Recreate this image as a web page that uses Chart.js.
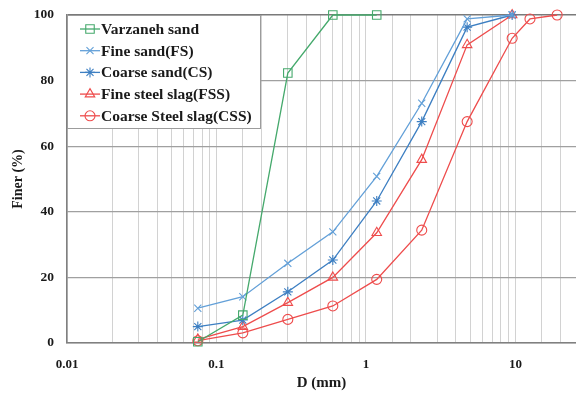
<!DOCTYPE html>
<html>
<head>
<meta charset="utf-8">
<script src="https://cdn.jsdelivr.net/npm/chart.js@4/dist/chart.umd.min.js"></script>
<style>
  body { margin: 0; background: #fff; }
  #wrap { width: 576px; height: 395px; position: relative; }
</style>
</head>
<body>
<div id="wrap"><canvas id="grafico"></canvas></div>
<script>
// tamices (mm) y porcentaje que pasa
const sieveSizes = [0.075, 0.15, 0.3, 0.6, 1.18, 2.36, 4.75, 9.5, 12.5, 19]
const varzanehSand = [0.4, 8.5, 82.3, 100, 100]
const fineSand = [10.6, 14.1, 24.3, 33.9, 50.8, 73.1, 98.8, 100]
const coarseSand = [5.0, 7.0, 15.6, 25.3, 43.3, 67.5, 96.3, 100]
const fineSlag = [1.1, 5.0, 12.3, 20.0, 33.6, 55.9, 90.9, 100]
const coarseSlag = [0.7, 3.1, 7.2, 11.3, 19.4, 34.4, 67.5, 92.9, 98.8, 100]

const seriesNames = ['Varzaneh sand', 'Fine sand(FS)', 'Coarse sand(CS)', 'Fine steel slag(FSS)', 'Coarse Steel slag(CSS)']
const xTickLabels = [0.01, 0.1, 1, 10]
const yTickValues = [0, 20, 40, 60, 80, 100]

const fuente = 'Liberation Serif, Times New Roman, serif'

function puntos(valores) {
  return valores.map((v, i) => ({x: sieveSizes[i], y: v}))
}

function serie(label, valores, color, estilo, radio) {
  return {
    label: label,
    data: puntos(valores),
    borderColor: color,
    backgroundColor: 'rgba(255,255,255,0)',
    pointBorderColor: color,
    pointBackgroundColor: 'rgba(255,255,255,0)',
    pointStyle: estilo,
    pointRadius: radio,
    pointBorderWidth: 1.1,
    borderWidth: 1.3,
    tension: 0,
    clip: false
  }
}

// leyenda dibujada dentro del area del grafico, con fondo blanco
const leyendaCaja = {
  id: 'leyendaCaja',
  afterDatasetsDraw(chart) {
    const ctx = chart.ctx
    const area = chart.chartArea
    const x0 = area.left, y0 = area.top
    ctx.save()
    ctx.fillStyle = '#fff'
    ctx.fillRect(x0, y0, 193, 113)
    ctx.strokeStyle = '#9c9c9c'
    ctx.lineWidth = 1
    ctx.strokeRect(x0 + 0.5, y0 + 0.5, 193, 113)
    ctx.font = 'bold 15.5px ' + fuente
    ctx.textBaseline = 'middle'
    chart.data.datasets.forEach((ds, i) => {
      const y = y0 + 14 + i * 21.7
      ctx.strokeStyle = ds.borderColor
      ctx.lineWidth = 1.3
      ctx.beginPath()
      ctx.moveTo(x0 + 13, y)
      ctx.lineTo(x0 + 33, y)
      ctx.stroke()
      ctx.fillStyle = 'rgba(255,255,255,0)'
      ctx.lineWidth = 1.1
      Chart.helpers.drawPoint(ctx, {pointStyle: ds.pointStyle, radius: ds.pointRadius, borderWidth: 1.1, rotation: 0}, x0 + 23, y)
      ctx.fillStyle = '#1a1a1a'
      ctx.fillText(ds.label, x0 + 34, y + 1)
    })
    ctx.restore()
  }
}

const canvas = document.getElementById('grafico')
const grafico = new Chart(canvas, {
  type: 'line',
  data: {
    datasets: [
      serie(seriesNames[0], varzanehSand, '#45a96c', 'rect', 6),
      serie(seriesNames[1], fineSand, '#63a0d8', 'crossRot', 5),
      serie(seriesNames[2], coarseSand, '#3d7fc2', 'star', 5),
      serie(seriesNames[3], fineSlag, '#ee4c4c', 'triangle', 5.5),
      serie(seriesNames[4], coarseSlag, '#ee4c4c', 'circle', 5)
    ]
  },
  options: {
    responsive: true,
    maintainAspectRatio: false,
    animation: false,
    layout: {autoPadding: false, padding: {top: 15, right: 0, bottom: 0, left: 0}},
    plugins: {
      legend: {display: false},
      tooltip: {enabled: false}
    },
    scales: {
      x: {
        type: 'logarithmic',
        min: 0.01,
        max: 25.4,
        afterFit: (scale) => {
          scale.height = 52
          scale.paddingLeft = 0
          scale.paddingRight = 0
        },
        border: {color: '#808080', width: 1.5},
        grid: {
          drawTicks: false,
          color: (c) => (c.tick && c.tick.value > 20.5) ? 'rgba(0,0,0,0)' : '#d2d2d2',
          lineWidth: 1
        },
        ticks: {
          autoSkip: false,
          maxRotation: 0,
          padding: 14,
          color: '#1a1a1a',
          font: {family: fuente, size: 13, weight: 'bold'},
          callback: (v) => xTickLabels.includes(Number(v.toPrecision(3))) ? String(Number(v.toPrecision(3))) : ''
        },
        title: {
          display: true,
          text: 'D (mm)',
          color: '#1a1a1a',
          font: {family: fuente, size: 15, weight: 'bold'},
          padding: {top: 0, bottom: 3}
        }
      },
      y: {
        min: 0,
        max: 100,
        afterFit: (scale) => {
          scale.width = 67
          scale.paddingTop = 0
          scale.paddingBottom = 0
        },
        afterBuildTicks: (scale) => { scale.ticks = yTickValues.map(v => ({value: v})) },
        border: {color: '#808080', width: 1.5},
        grid: {
          drawTicks: false,
          color: (c) => c.tick && c.tick.value === 100 ? '#7a7a7a' : '#a0a0a0',
          lineWidth: (c) => c.tick && c.tick.value === 100 ? 1.6 : 1.2
        },
        ticks: {
          padding: 13,
          color: '#1a1a1a',
          font: {family: fuente, size: 13.5, weight: 'bold'}
        },
        title: {
          display: true,
          text: 'Finer (%)',
          color: '#1a1a1a',
          font: {family: fuente, size: 14, weight: 'bold'},
          padding: {top: 10, bottom: 0}
        }
      }
    }
  },
  plugins: [leyendaCaja]
})
</script>
</body>
</html>
